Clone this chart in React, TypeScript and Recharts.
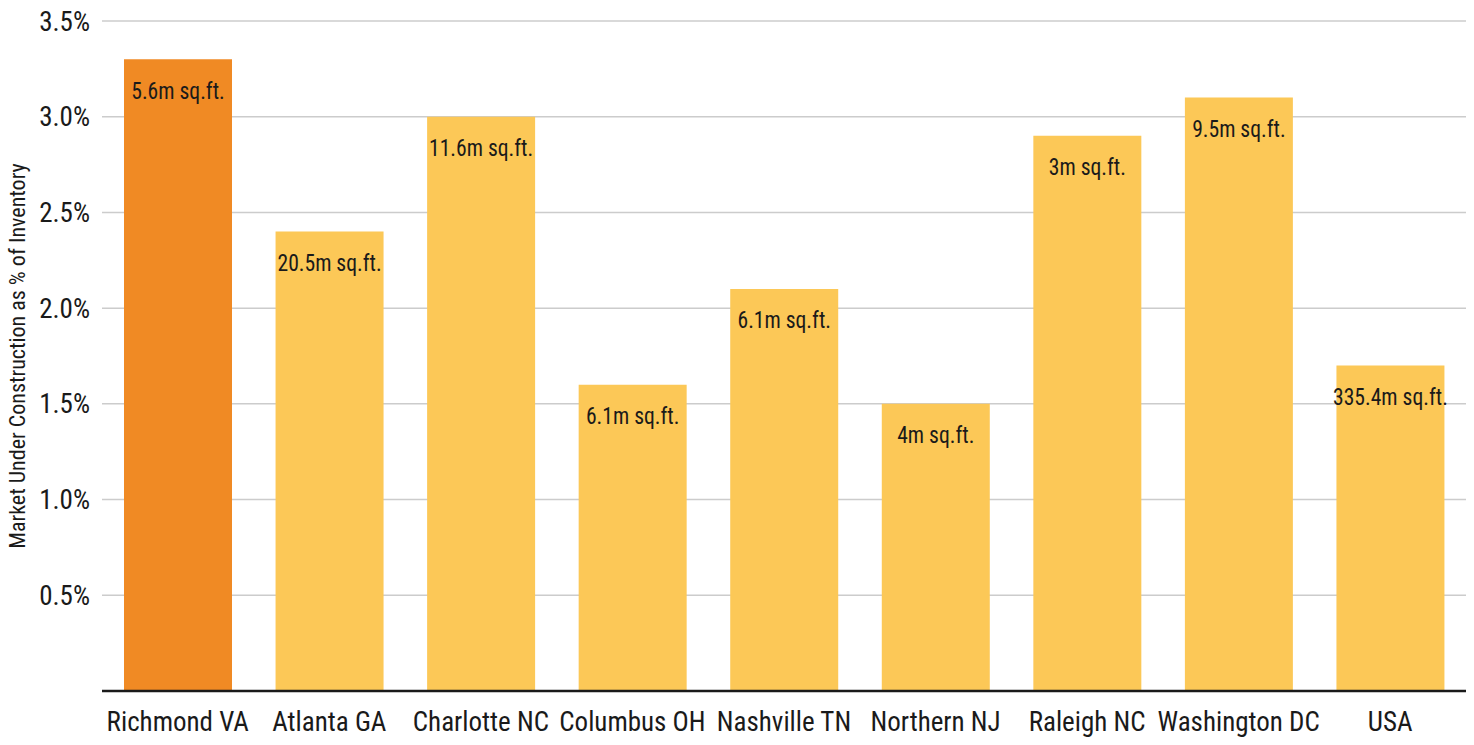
import React from "react";
import { BarChart, Bar, XAxis, YAxis, CartesianGrid, Cell, LabelList } from "recharts";

const categories = ["Richmond VA", "Atlanta GA", "Charlotte NC", "Columbus OH", "Nashville TN", "Northern NJ", "Raleigh NC", "Washington DC", "USA"];
const shareValues = [3.3, 2.4, 3.0, 1.6, 2.1, 1.5, 2.9, 3.1, 1.7];
const sqftLabels = ["5.6m sq.ft.", "20.5m sq.ft.", "11.6m sq.ft.", "6.1m sq.ft.", "6.1m sq.ft.", "4m sq.ft.", "3m sq.ft.", "9.5m sq.ft.", "335.4m sq.ft."];
const yTicks = [0, 0.5, 1.0, 1.5, 2.0, 2.5, 3.0, 3.5];

const data = categories.map((name, i) => ({ name, value: shareValues[i], label: sqftLabels[i] }));

const FONT = "'Roboto Condensed', 'Liberation Sans Narrow', 'Arial Narrow', Roboto, sans-serif";
const INK = "#1a1a1a";

const BarLabel = (props: any) => {
  const { x, y, width, value } = props;
  const cx = Number(x) + Number(width) / 2;
  const ty = Number(y) + 22;
  return (
    <text
      transform={`translate(${cx},${ty}) scale(0.9,1)`}
      x={0}
      y={0}
      dy="0.72em"
      textAnchor="middle"
      fill={INK}
      fontSize={24}
      fontFamily={FONT}
    >
      {value}
    </text>
  );
};

export default function App() {
  return (
    <div style={{ position: "absolute", left: 0, top: 0, width: 1474, height: 745, background: "#fff", fontFamily: FONT }}>
      <BarChart width={1474} height={745} data={data} margin={{ top: 21, right: 8, bottom: 0, left: 0 }} barCategoryGap={0}>
        <CartesianGrid vertical={false} stroke="#cccccc" strokeWidth={1.5} />
        <XAxis
          dataKey="name"
          axisLine={{ stroke: INK, strokeWidth: 2.5 }}
          tickLine={false}
          tick={{ fill: INK, fontSize: 27, fontFamily: FONT }}
          tickMargin={15}
          height={54}
          interval={0}
        />
        <YAxis
          domain={[0, 3.5]}
          ticks={yTicks}
          axisLine={false}
          tickLine={false}
          width={102}
          tickMargin={6}
          tick={{ fill: INK, fontSize: 27, fontFamily: FONT }}
          tickFormatter={(v: number) => (v === 0 ? "" : v.toFixed(1) + "%")}
          label={{
            value: "Market Under Construction as % of Inventory",
            angle: -90,
            position: "insideLeft",
            offset: 17,
            style: { textAnchor: "middle", fill: INK, fontSize: 22, fontFamily: FONT },
          }}
        />
        <Bar dataKey="value" barSize={108} isAnimationActive={false}>
          {data.map((d, i) => (
            <Cell key={d.name} fill={i === 0 ? "#F08A24" : "#FCC857"} />
          ))}
          <LabelList dataKey="label" content={BarLabel} />
        </Bar>
      </BarChart>
    </div>
  );
}
